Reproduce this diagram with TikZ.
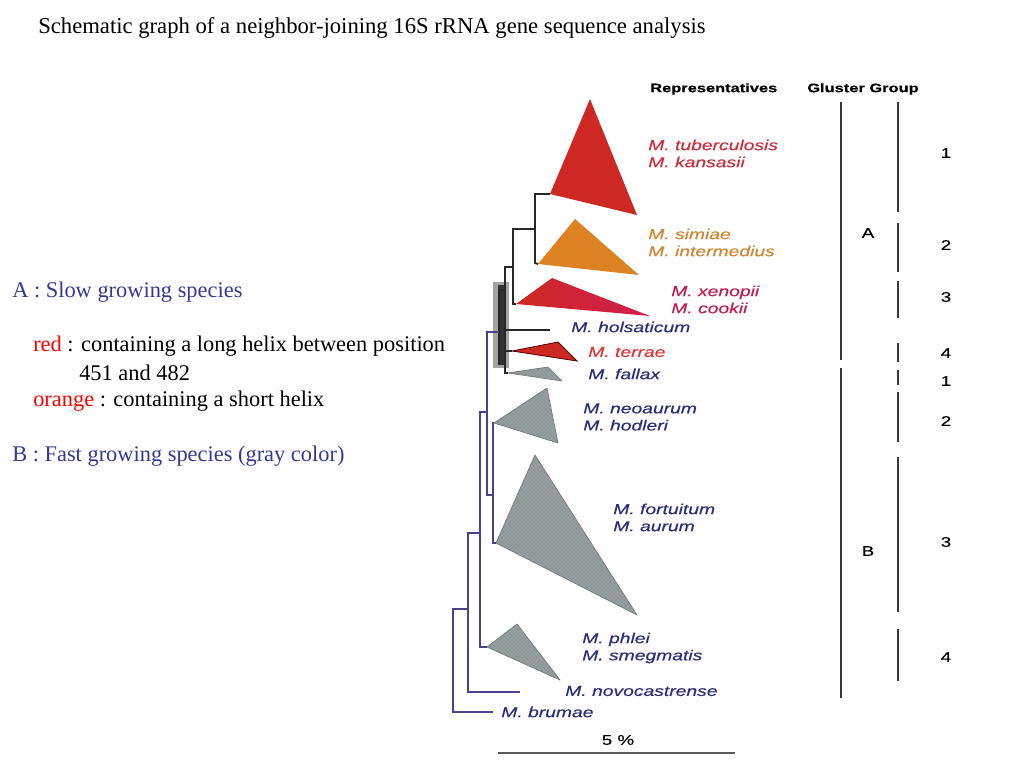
\documentclass[tikz,border=0pt]{standalone}
\usepackage{fontspec}
\setmainfont{Liberation Serif}
\newfontfamily\labfont[FakeStretch=1.34,FakeBold=0.4]{Liberation Sans}
\usetikzlibrary{calc,patterns}
\definecolor{leftblue}{RGB}{55,55,150}
\definecolor{labblue}{RGB}{45,45,125}
\definecolor{labred}{RGB}{205,45,60}
\definecolor{laborange}{RGB}{205,135,50}
\definecolor{labcrimson}{RGB}{195,30,75}
\definecolor{terrared}{RGB}{220,55,55}
\definecolor{trired}{RGB}{205,40,35}
\definecolor{triorange}{RGB}{220,130,35}
\definecolor{tricrimson}{RGB}{210,30,80}
\definecolor{trigray}{RGB}{150,160,160}
\definecolor{trigrayd}{RGB}{110,120,120}
\definecolor{treeblack}{RGB}{40,40,40}
\definecolor{treepurple}{RGB}{75,65,145}
\definecolor{colline}{RGB}{55,55,55}
\tikzset{
  lab/.style={anchor=west,inner sep=0pt,align=left,font=\labfont\itshape\fontsize{10.8}{12.8}\selectfont},
  hdr/.style={anchor=west,inner sep=0pt,font=\labfont\bfseries\fontsize{9.2}{11}\selectfont},
  num/.style={inner sep=0pt,font=\labfont\fontsize{10.5}{12}\selectfont},
  lefttxt/.style={anchor=west,inner sep=0pt,align=left,font=\fontsize{16.8}{20.6}\selectfont},
  blk/.style={draw=treeblack,line width=1.35pt},
  prp/.style={draw=treepurple,line width=1.35pt},
  grp/.style={draw=colline,line width=2.2pt},
  graytri/.style={fill=trigray,draw=trigrayd,line width=0.5pt,line join=round},
  grayhatch/.style={pattern=crosshatch dots,pattern color=trigrayd},
}
\begin{document}
\begin{tikzpicture}[x=0.75pt,y=-0.75pt]
\useasboundingbox (0,0) rectangle (1024,768);
% title
\node[lefttxt,font=\fontsize{17}{20.6}\selectfont] (title) at (38,28) {Schematic graph of a neighbor-joining 16S rRNA gene sequence analysis};
% left legend
\node[lefttxt,text=leftblue] (la) at (12,292) {A : Slow growing species};
\node[lefttxt] (lred) at (33,346) {\textcolor{red}{red} : containing a long helix between position};
\node[lefttxt] (lnum) at (79,373) {451 and 482};
\node[lefttxt] (lor) at (33,401) {\textcolor{red}{orange} : containing a short helix};
\node[lefttxt,text=leftblue] (lb) at (12,456) {B : Fast growing species (gray color)};

% triangles
\coordinate (t1) at (550,194);
\coordinate (t2) at (538,264);
\coordinate (t3) at (516,304);
\coordinate (t4) at (512,351);
\coordinate (t5) at (508,373);
\coordinate (t6) at (494,423);
\coordinate (t7) at (496,543);
\coordinate (t8) at (487,647);
\fill[trired] (t1) -- (590,99) -- (637,215) -- cycle;
\fill[triorange] (t2) -- (575,219) -- (639,275) -- cycle;
\shade[left color=trired,right color=tricrimson] (t3) -- (552,278) -- (650,316) -- cycle;
\filldraw[fill=trired,draw=black!70!red,line width=0.6pt] (t4) -- (558,342) -- (577,361) -- cycle;
\foreach \p in {{(t5) -- (548,367) -- (562,381) -- cycle},{(t6) -- (547,388) -- (558,443) -- cycle},{(t7) -- (535,455) -- (637,615) -- cycle},{(t8) -- (517,624) -- (560,680) -- cycle}}{
  \filldraw[graytri] \p;
  \fill[grayhatch] \p;
}

% bootstrap box
\fill[black!45,opacity=0.8] (493,282) rectangle (509,368);
\fill[black!80] (498,285) rectangle (506,365);

% black tree part
\coordinate (n1a) at (535,194);
\coordinate (n1b) at (535,263);
\coordinate (n1m) at (535,229);
\coordinate (n2a) at (513,229);
\coordinate (n2b) at (513,304);
\coordinate (n2m) at (513,267);
\coordinate (n3a) at (505,267);
\coordinate (n3h) at (505,330);
\coordinate (n3t) at (505,351);
\coordinate (n3b) at (505,373);
\coordinate (hol) at (550,330);
\coordinate (inA) at (499,290);
\coordinate (inB) at (499,365);
\draw[blk] (t1) -- (n1a) -- (n1b) -- (t2);
\draw[blk] (n1m) -- (n2a) -- (n2b) -- (t3);
\draw[blk] (n2m) -- (n3a) -- (n3b) -- (t5);
\draw[blk] (n3h) -- (hol);
\draw[blk] (n3t) -- (t4);
\draw[blk] (inA) -- (inB);
\draw[blk] (inA) -- (n3a |- inA);

% purple tree part
\coordinate (pin) at (499,332);
\coordinate (p1a) at (487,332);
\coordinate (p1m) at (487,412);
\coordinate (p1b) at (487,495);
\coordinate (p2a) at (493,423);
\coordinate (p2m) at (493,495);
\coordinate (p2b) at (493,543);
\coordinate (p3a) at (480,412);
\coordinate (p3m) at (480,533);
\coordinate (p3b) at (480,647);
\coordinate (p4a) at (468,533);
\coordinate (p4m) at (468,609);
\coordinate (p4b) at (468,692);
\coordinate (nov) at (520,692);
\coordinate (p5a) at (453,609);
\coordinate (p5b) at (453,712);
\coordinate (bru) at (493,712);
\draw[prp] (pin) -- (p1a) -- (p1b) -- (p2m);
\draw[prp] (t6) -- (p2a) -- (p2b) -- (t7);
\draw[prp] (p1m) -- (p3a) -- (p3b) -- (t8);
\draw[prp] (p3m) -- (p4a) -- (p4b) -- (nov);
\draw[prp] (p4m) -- (p5a) -- (p5b) -- (bru);

% species labels
\node[lab,text=labred] (l1) at (648,153.5) {M. tuberculosis\\M. kansasii};
\node[lab,text=laborange] (l2) at (648,242.5) {M. simiae\\M. intermedius};
\node[lab,text=labcrimson] (l3) at (671,299.5) {M. xenopii\\M. cookii};
\node[lab,text=labblue] (l4) at (571,327) {M. holsaticum};
\node[lab,text=terrared] (l5) at (588,352) {M. terrae};
\node[lab,text=labblue] (l6) at (588,374) {M. fallax};
\node[lab,text=labblue] (l7) at (583,417) {M. neoaurum\\M. hodleri};
\node[lab,text=labblue] (l8) at (613,517.5) {M. fortuitum\\M. aurum};
\node[lab,text=labblue] (l9) at (582,648) {M. phlei\\M. smegmatis};
\node[lab,text=labblue] (l10) at (565,691) {M. novocastrense};
\node[lab,text=labblue] (l11) at (501,712) {M. brumae};

% scale bar
\coordinate (sb1) at (498,753);
\coordinate (sb2) at (735,753);
\draw[draw=black!65,line width=1.2pt] (sb1) -- (sb2);
\node[num] (sbl) at (618,740) {5 \%};

% headers
\node[hdr] (h1) at (650,89) {Representatives};
\node[hdr] (h2) at (807,89) {Gluster Group};

% cluster columns
\coordinate (Aa) at (841,102);
\coordinate (Ab) at (841,360);
\coordinate (Ba) at (841,368);
\coordinate (Bb) at (841,698);
\draw[grp] (Aa) -- (Ab);
\draw[grp] (Ba) -- (Bb);
\node[num] (gA) at (868,233) {A};
\node[num] (gB) at (868,551) {B};
\foreach \a/\b/\n/\y [count=\i] in {102/212/1/153, 223/272/2/245, 281/318/3/297, 343/362/4/353, 370/385/1/381, 392/442/2/421, 457/612/3/542, 629/681/4/657}{
  \coordinate (s\i a) at (898,\a);
  \coordinate (s\i b) at (898,\b);
  \draw[grp] (s\i a) -- (s\i b);
  \node[num] (g\i) at (946,\y) {\n};
}
\end{tikzpicture}
\end{document}
